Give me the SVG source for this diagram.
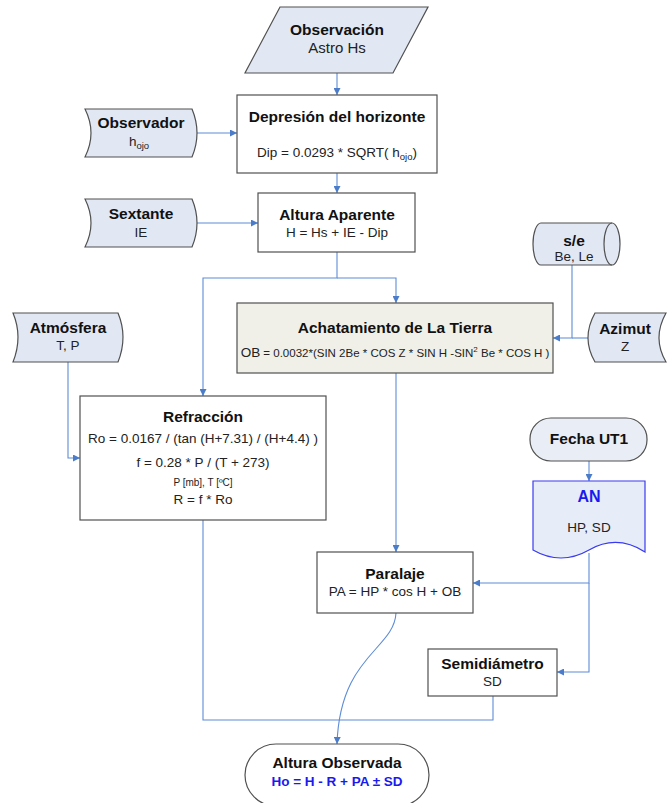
<svg xmlns="http://www.w3.org/2000/svg" width="671" height="803" viewBox="0 0 671 803">
<defs>
<style>
.sh{stroke:#505050;stroke-width:1.2}
.in{fill:#e1e8f4}
.wh{fill:#ffffff}
.t{font-family:"Liberation Sans",Arial,sans-serif;fill:#111;text-anchor:middle}
.b{font-weight:bold;font-size:15.5px}
.r{font-size:13.5px;fill:#222}
.c{fill:none;stroke:#5d8cd6;stroke-width:1.1}
.bl{fill:#1a1aee}
</style>
<marker id="ah" viewBox="0 0 10 10" refX="10" refY="5" markerWidth="7" markerHeight="7" markerUnits="userSpaceOnUse" orient="auto">
<path d="M0,0 L10,5 L0,10 Z" fill="#4a7cc9"/>
</marker>
</defs>
<rect width="671" height="803" fill="#ffffff"/>

<g id="connectors">
<path class="c" d="M337,73 V95" marker-end="url(#ah)"/>
<path class="c" d="M197,133 H237" marker-end="url(#ah)"/>
<path class="c" d="M337,173 V193" marker-end="url(#ah)"/>
<path class="c" d="M197,223 H258" marker-end="url(#ah)"/>
<path class="c" d="M337,252 V278 H203 V396" marker-end="url(#ah)"/>
<path class="c" d="M337,278 H396 V303" marker-end="url(#ah)"/>
<path class="c" d="M68,362 V458 H80" marker-end="url(#ah)"/>
<path class="c" d="M572,265 V338 H553" marker-end="url(#ah)" stroke="#8fb0e3"/>
<path class="c" d="M588,338 H572"/>
<path class="c" d="M396,373 V552" marker-end="url(#ah)"/>
<path class="c" d="M589,461 V481" marker-end="url(#ah)"/>
<path class="c" d="M589,553 V583 H473" marker-end="url(#ah)"/>
<path class="c" d="M589,583 V672 H557" marker-end="url(#ah)"/>
<path class="c" d="M203,520 V720 H493 V696"/>
<path class="c" d="M396,613 C394,650 340,655 337,744" marker-end="url(#ah)"/>
</g>

<g id="observacion">
<path class="sh in" d="M280,7 H428 L393,73 H245 Z"/>
<text class="t b" x="337" y="35">Observación</text>
<text class="t r" x="337" y="53" style="font-size:15px">Astro Hs</text>
</g>

<g id="depresion">
<rect class="sh wh" x="237" y="95" width="200" height="78"/>
<text class="t b" x="337" y="122">Depresión del horizonte</text>
<text class="t r" x="337" y="157">Dip = 0.0293 * SQRT( h<tspan dy="3" font-size="9.5">ojo</tspan><tspan dy="-3">)</tspan></text>
</g>

<g id="observador">
<path class="sh in" d="M85,109 H192 Q202,133 192,157 H85 Q97,133 85,109 Z"/>
<text class="t b" x="141" y="128">Observador</text>
<text class="t r" x="139" y="146">h<tspan dy="3" font-size="9.5">ojo</tspan></text>
</g>

<g id="altura-aparente">
<rect class="sh wh" x="258" y="193" width="157" height="59"/>
<text class="t b" x="337" y="220">Altura Aparente</text>
<text class="t r" x="337" y="237">H = Hs + IE - Dip</text>
</g>

<g id="sextante">
<path class="sh in" d="M85,199 H192 Q202,223 192,247 H85 Q97,223 85,199 Z"/>
<text class="t b" x="141" y="219">Sextante</text>
<text class="t r" x="141" y="237">IE</text>
</g>

<g id="atmosfera">
<path class="sh in" d="M13,313 H118 Q128,337 118,362 H13 Q23,337 13,313 Z"/>
<text class="t b" x="68" y="333">Atmósfera</text>
<text class="t r" x="68" y="350">T, P</text>
</g>

<g id="achatamiento">
<rect class="sh" fill="#f0f0e8" x="237" y="303" width="316" height="70"/>
<text class="t b" x="395" y="333">Achatamiento de La Tierra</text>
<text class="t" x="395" y="357" style="font-size:11.5px;fill:#222"><tspan font-size="13.5">OB</tspan> = 0.0032*(SIN 2Be * COS Z * SIN H -SIN<tspan dy="-5" font-size="8">2</tspan><tspan dy="5"> Be * COS H )</tspan></text>
</g>

<g id="se">
<path class="sh in" d="M541,223 H612 A8,21 0 0 1 612,265 H541 A8,21 0 0 1 541,223 Z"/>
<path class="sh" fill="none" d="M612,223 A8,21 0 0 0 612,265"/>
<text class="t b" x="574" y="246">s/e</text>
<text class="t r" x="574" y="261">Be, Le</text>
</g>

<g id="azimut">
<path class="sh in" d="M595,313 H666 Q652,338 666,362 H595 Q581,338 595,313 Z"/>
<text class="t b" x="625" y="334">Azimut</text>
<text class="t r" x="625" y="351">Z</text>
</g>

<g id="refraccion">
<rect class="sh wh" x="80" y="396" width="246" height="124"/>
<text class="t b" x="203" y="422">Refracción</text>
<text class="t r" x="203" y="443">Ro = 0.0167 / (tan (H+7.31) / (H+4.4) )</text>
<text class="t r" x="203" y="467">f = 0.28 * P / (T + 273)</text>
<text class="t r" x="203" y="486" style="font-size:10px">P [mb], T [ºC]</text>
<text class="t r" x="203" y="504">R = f * Ro</text>
</g>

<g id="fecha">
<rect class="sh" fill="#e9edf5" x="530" y="418" width="117" height="43" rx="21" ry="21"/>
<text class="t b" x="589" y="444">Fecha UT1</text>
</g>

<g id="an">
<path d="M533,481 H645 V552 Q617,534 589,550 T533,550 Z" fill="#e6ecf8" stroke="#3a3af0" stroke-width="1.2"/>
<text class="t b bl" x="589" y="502" style="font-size:16px;fill:#1a1aee">AN</text>
<text class="t r" x="589" y="532">HP, SD</text>
</g>

<g id="paralaje">
<rect class="sh wh" x="317" y="552" width="156" height="61"/>
<text class="t b" x="395" y="579">Paralaje</text>
<text class="t r" x="395" y="596">PA = HP * cos H + OB</text>
</g>

<g id="semidiametro">
<rect class="sh wh" x="428" y="649" width="129" height="47"/>
<text class="t b" x="492.5" y="669">Semidiámetro</text>
<text class="t r" x="492.5" y="686">SD</text>
</g>

<g id="altura-observada">
<rect class="sh wh" x="245" y="744" width="184" height="62" rx="31" ry="31"/>
<text class="t b" x="337" y="768">Altura Observada</text>
<text class="t b" x="337" y="786" style="font-size:13.5px;fill:#1a1aee">Ho = H - R + PA ± SD</text>
</g>
</svg>
